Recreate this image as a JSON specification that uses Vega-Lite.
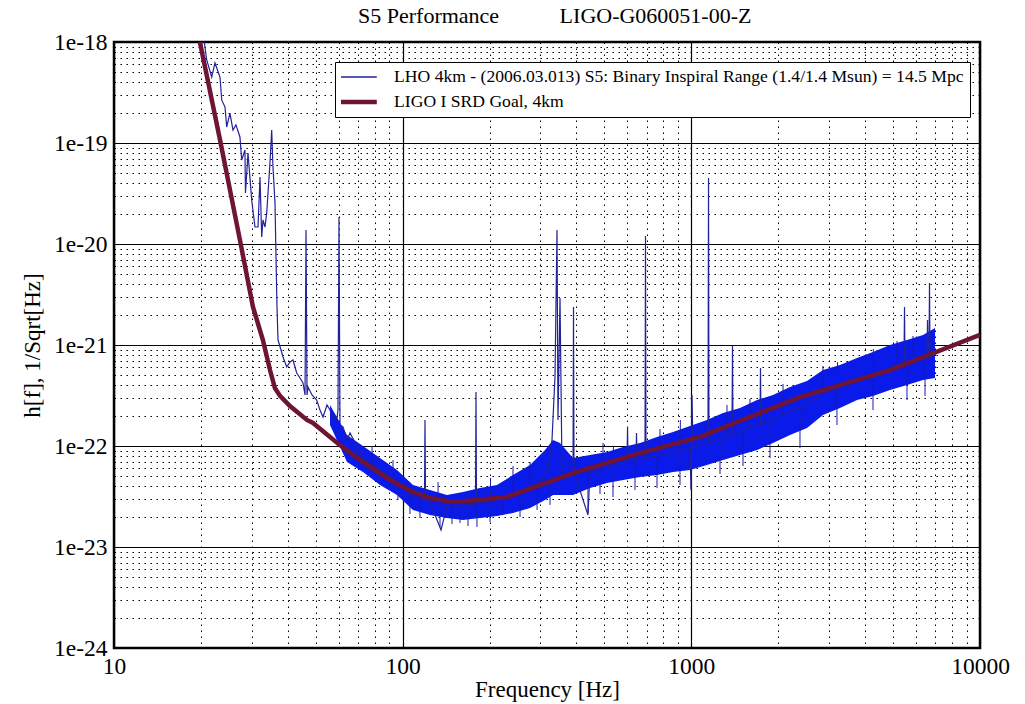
{
  "$schema": "https://vega.github.io/schema/vega-lite/v6.json",
  "width": 866,
  "height": 606,
  "autosize": {"type": "none"},
  "padding": {"left": 114, "top": 42, "right": 45, "bottom": 56},
  "background": "white",
  "config": {"font": "Liberation Serif", "view": {"stroke": "black", "strokeWidth": 2.5}},
  "title": {"text": "S5 Performance\u00a0\u00a0\u00a0\u00a0\u00a0\u00a0\u00a0\u00a0\u00a0\u00a0\u00a0LIGO-G060051-00-Z", "anchor": "start", "frame": "group", "dx": 244, "dy": 10, "fontSize": 22, "fontWeight": "normal", "color": "black", "offset": 12},
  "datasets": {
    "band": [
      {"f": 56.01, "hi": 2.55e-22, "lo": 1.614e-22},
      {"f": 64.15, "hi": 1.285e-22, "lo": 6.94e-23},
      {"f": 72.87, "hi": 1.0e-22, "lo": 5.53e-23},
      {"f": 83.47, "hi": 7.61e-23, "lo": 4.11e-23},
      {"f": 95.59, "hi": 5.78e-23, "lo": 3.27e-23},
      {"f": 108.6, "hi": 4.11e-23, "lo": 2.32e-23},
      {"f": 124.3, "hi": 3.67e-23, "lo": 2.07e-23},
      {"f": 142.4, "hi": 3.27e-23, "lo": 1.937e-23},
      {"f": 161.8, "hi": 3.50e-23, "lo": 1.851e-23},
      {"f": 185.3, "hi": 3.84e-23, "lo": 1.937e-23},
      {"f": 212.2, "hi": 4.11e-23, "lo": 2.03e-23},
      {"f": 241.1, "hi": 5.16e-23, "lo": 2.17e-23},
      {"f": 276.2, "hi": 6.48e-23, "lo": 2.43e-23},
      {"f": 311.3, "hi": 9.13e-23, "lo": 2.92e-23},
      {"f": 331.8, "hi": 1.147e-22, "lo": 3.27e-23},
      {"f": 350.8, "hi": 1.071e-22, "lo": 3.27e-23},
      {"f": 389.1, "hi": 7.61e-23, "lo": 3.27e-23},
      {"f": 445.7, "hi": 8.15e-23, "lo": 3.84e-23},
      {"f": 510.5, "hi": 8.72e-23, "lo": 4.30e-23},
      {"f": 580.0, "hi": 9.77e-23, "lo": 4.61e-23},
      {"f": 664.1, "hi": 1.071e-22, "lo": 4.93e-23},
      {"f": 760.4, "hi": 1.228e-22, "lo": 5.16e-23},
      {"f": 864.0, "hi": 1.376e-22, "lo": 5.53e-23},
      {"f": 989.5, "hi": 1.578e-22, "lo": 5.78e-23},
      {"f": 1133, "hi": 1.809e-22, "lo": 6.48e-23},
      {"f": 1287.6, "hi": 2.12e-22, "lo": 7.27e-23},
      {"f": 1474, "hi": 2.38e-22, "lo": 8.15e-23},
      {"f": 1689, "hi": 2.85e-22, "lo": 9.13e-23},
      {"f": 1918, "hi": 3.20e-22, "lo": 1.071e-22},
      {"f": 2197, "hi": 3.84e-22, "lo": 1.285e-22},
      {"f": 2516, "hi": 4.40e-22, "lo": 1.507e-22},
      {"f": 2858, "hi": 5.65e-22, "lo": 2.03e-22},
      {"f": 3273, "hi": 6.34e-22, "lo": 2.38e-22},
      {"f": 3749, "hi": 7.43e-22, "lo": 2.85e-22},
      {"f": 4259, "hi": 8.52e-22, "lo": 3.13e-22},
      {"f": 4877, "hi": 1.0e-21, "lo": 3.58e-22},
      {"f": 5586, "hi": 1.12e-21, "lo": 4.02e-22},
      {"f": 6346, "hi": 1.256e-21, "lo": 4.50e-22},
      {"f": 6984, "hi": 1.473e-21, "lo": 4.71e-22}
    ],
    "hairs": [
      {"f": 96.34, "a": 2.92e-23, "b": 4.61e-23},
      {"f": 106.0, "a": 2.12e-23, "b": 3.67e-23},
      {"f": 114.8, "a": 1.937e-23, "b": 3.27e-23},
      {"f": 134.7, "a": 1.578e-23, "b": 2.92e-23},
      {"f": 148.2, "a": 1.689e-23, "b": 2.73e-23},
      {"f": 158.0, "a": 1.728e-23, "b": 2.73e-23},
      {"f": 168.4, "a": 1.614e-23, "b": 2.73e-23},
      {"f": 180.9, "a": 1.578e-23, "b": 2.73e-23},
      {"f": 200.7, "a": 1.768e-23, "b": 2.92e-23},
      {"f": 222.6, "a": 2.07e-23, "b": 3.20e-23},
      {"f": 255.0, "a": 1.982e-23, "b": 3.67e-23},
      {"f": 292.1, "a": 2.32e-23, "b": 4.21e-23},
      {"f": 323.9, "a": 2.61e-23, "b": 4.82e-23},
      {"f": 438.5, "a": 2.17e-23, "b": 5.65e-23},
      {"f": 482.6, "a": 3.35e-23, "b": 6.06e-23},
      {"f": 535.4, "a": 3.13e-23, "b": 6.48e-23},
      {"f": 638.0, "a": 3.67e-23, "b": 7.27e-23},
      {"f": 760.4, "a": 3.84e-23, "b": 7.96e-23},
      {"f": 913.5, "a": 4.11e-23, "b": 9.13e-23},
      {"f": 1257, "a": 5.28e-23, "b": 1.200e-22},
      {"f": 1510, "a": 6.34e-23, "b": 1.376e-22},
      {"f": 1873, "a": 7.61e-23, "b": 1.728e-22},
      {"f": 2379, "a": 9.55e-23, "b": 2.38e-22},
      {"f": 3195, "a": 1.614e-22, "b": 3.75e-22},
      {"f": 4259, "a": 2.27e-22, "b": 5.16e-22},
      {"f": 5586, "a": 2.85e-22, "b": 6.79e-22},
      {"f": 6450, "a": 3.13e-22, "b": 7.61e-22},
      {"f": 78.32, "a": 1.0e-22, "b": 6.48e-23},
      {"f": 92.58, "a": 7.27e-23, "b": 4.61e-23},
      {"f": 132.6, "a": 4.40e-23, "b": 2.92e-23},
      {"f": 201.5, "a": 4.82e-23, "b": 2.92e-23},
      {"f": 241.1, "a": 6.34e-23, "b": 3.35e-23},
      {"f": 276.2, "a": 6.94e-23, "b": 4.02e-23},
      {"f": 494.3, "a": 1.071e-22, "b": 6.20e-23},
      {"f": 537.0, "a": 1.0e-22, "b": 6.34e-23},
      {"f": 778.8, "a": 1.473e-22, "b": 8.15e-23},
      {"f": 916.0, "a": 1.809e-22, "b": 9.13e-23},
      {"f": 1329, "a": 2.55e-22, "b": 1.256e-22},
      {"f": 1597, "a": 2.92e-22, "b": 1.507e-22},
      {"f": 2078, "a": 4.11e-22, "b": 2.07e-22},
      {"f": 2858, "a": 6.20e-22, "b": 3.42e-22},
      {"f": 3210, "a": 6.79e-22, "b": 3.75e-22},
      {"f": 4270, "a": 9.13e-22, "b": 5.16e-22},
      {"f": 5159, "a": 1.096e-21, "b": 6.20e-22},
      {"f": 5860, "a": 1.228e-21, "b": 7.10e-22}
    ],
    "lines": [
      {"s": "LHO", "f": 20.50, "h": 1.047e-18},
      {"s": "LHO", "f": 20.95, "h": 6.64e-19},
      {"s": "LHO", "f": 21.80, "h": 4.50e-19},
      {"s": "LHO", "f": 22.38, "h": 6.20e-19},
      {"s": "LHO", "f": 23.29, "h": 4.50e-19},
      {"s": "LHO", "f": 23.61, "h": 2.67e-19},
      {"s": "LHO", "f": 24.24, "h": 2.27e-19},
      {"s": "LHO", "f": 24.57, "h": 1.44e-19},
      {"s": "LHO", "f": 25.22, "h": 1.98e-19},
      {"s": "LHO", "f": 25.83, "h": 1.345e-19},
      {"s": "LHO", "f": 26.45, "h": 1.51e-19},
      {"s": "LHO", "f": 27.31, "h": 1.147e-19},
      {"s": "LHO", "f": 27.69, "h": 6.79e-20},
      {"s": "LHO", "f": 28.42, "h": 8.52e-20},
      {"s": "LHO", "f": 28.54, "h": 3.20e-20},
      {"s": "LHO", "f": 29.12, "h": 7.96e-20},
      {"s": "LHO", "f": 29.99, "h": 2.73e-20},
      {"s": "LHO", "f": 30.79, "h": 1.473e-20},
      {"s": "LHO", "f": 31.54, "h": 1.473e-20},
      {"s": "LHO", "f": 32.05, "h": 4.61e-20},
      {"s": "LHO", "f": 32.48, "h": 1.173e-20},
      {"s": "LHO", "f": 32.82, "h": 1.728e-20},
      {"s": "LHO", "f": 33.35, "h": 1.473e-20},
      {"s": "LHO", "f": 33.81, "h": 2.03e-20},
      {"s": "LHO", "f": 34.70, "h": 6.34e-20},
      {"s": "LHO", "f": 35.18, "h": 1.345e-19},
      {"s": "LHO", "f": 35.54, "h": 5.78e-20},
      {"s": "LHO", "f": 36.12, "h": 2.55e-20},
      {"s": "LHO", "f": 36.41, "h": 7.43e-21},
      {"s": "LHO", "f": 36.70, "h": 2.38e-21},
      {"s": "LHO", "f": 37.00, "h": 1.12e-21},
      {"s": "LHO", "f": 37.89, "h": 8.92e-22},
      {"s": "LHO", "f": 38.50, "h": 7.61e-22},
      {"s": "LHO", "f": 39.66, "h": 6.05e-22},
      {"s": "LHO", "f": 40.71, "h": 6.79e-22},
      {"s": "LHO", "f": 41.70, "h": 7.10e-22},
      {"s": "LHO", "f": 42.95, "h": 5.28e-22},
      {"s": "LHO", "f": 44.09, "h": 4.71e-22},
      {"s": "LHO", "f": 45.16, "h": 4.21e-22},
      {"s": "LHO", "f": 45.89, "h": 3.20e-22},
      {"s": "LHO", "f": 46.26, "h": 1.376e-20},
      {"s": "LHO", "f": 46.63, "h": 3.20e-22},
      {"s": "LHO", "f": 46.99, "h": 3.84e-22},
      {"s": "LHO", "f": 48.52, "h": 3.20e-22},
      {"s": "LHO", "f": 50.37, "h": 2.85e-22},
      {"s": "LHO", "f": 51.71, "h": 2.27e-22},
      {"s": "LHO", "f": 52.97, "h": 1.937e-22},
      {"s": "LHO", "f": 54.69, "h": 2.55e-22},
      {"s": "LHO", "f": 56.01, "h": 2.27e-22},
      {"s": "LHO", "f": 57.37, "h": 1.893e-22},
      {"s": "LHO", "f": 59.08, "h": 1.809e-22},
      {"s": "LHO", "f": 59.70, "h": 2.27e-22},
      {"s": "LHO", "f": 60.18, "h": 1.851e-20},
      {"s": "LHO", "f": 60.66, "h": 1.614e-22},
      {"s": "LHO", "f": 62.13, "h": 1.542e-22},
      {"s": "LHO", "f": 64.15, "h": 1.147e-22},
      {"s": "LHO", "f": 65.70, "h": 1.345e-22},
      {"s": "LHO", "f": 72.87, "h": 7.61e-23},
      {"s": "LHO", "f": 83.47, "h": 5.78e-23},
      {"s": "LHO", "f": 95.59, "h": 4.40e-23},
      {"s": "LHO", "f": 108.6, "h": 3.13e-23},
      {"s": "LHO", "f": 119.0, "h": 2.92e-23},
      {"s": "LHO", "f": 119.5, "h": 1.809e-22},
      {"s": "LHO", "f": 120.0, "h": 2.79e-23},
      {"s": "LHO", "f": 124.3, "h": 2.79e-23},
      {"s": "LHO", "f": 135.8, "h": 1.473e-23},
      {"s": "LHO", "f": 142.4, "h": 2.55e-23},
      {"s": "LHO", "f": 161.8, "h": 2.55e-23},
      {"s": "LHO", "f": 178.8, "h": 2.67e-23},
      {"s": "LHO", "f": 179.5, "h": 3.42e-22},
      {"s": "LHO", "f": 180.2, "h": 2.67e-23},
      {"s": "LHO", "f": 185.3, "h": 2.73e-23},
      {"s": "LHO", "f": 212.2, "h": 2.92e-23},
      {"s": "LHO", "f": 241.1, "h": 3.35e-23},
      {"s": "LHO", "f": 276.2, "h": 4.02e-23},
      {"s": "LHO", "f": 299.1, "h": 4.40e-23},
      {"s": "LHO", "f": 318.8, "h": 5.78e-23},
      {"s": "LHO", "f": 329.1, "h": 1.147e-22},
      {"s": "LHO", "f": 337.1, "h": 4.93e-22},
      {"s": "LHO", "f": 342.5, "h": 1.376e-20},
      {"s": "LHO", "f": 345.2, "h": 1.809e-22},
      {"s": "LHO", "f": 350.8, "h": 2.92e-21},
      {"s": "LHO", "f": 356.4, "h": 5.78e-23},
      {"s": "LHO", "f": 368.0, "h": 4.82e-23},
      {"s": "LHO", "f": 389.1, "h": 5.53e-23},
      {"s": "LHO", "f": 390.7, "h": 2.38e-21},
      {"s": "LHO", "f": 392.2, "h": 5.53e-23},
      {"s": "LHO", "f": 438.5, "h": 2.07e-23},
      {"s": "LHO", "f": 445.7, "h": 5.65e-23},
      {"s": "LHO", "f": 510.5, "h": 6.20e-23},
      {"s": "LHO", "f": 580.0, "h": 6.79e-23},
      {"s": "LHO", "f": 598.8, "h": 7.27e-23},
      {"s": "LHO", "f": 601.2, "h": 1.542e-22},
      {"s": "LHO", "f": 603.6, "h": 7.27e-23},
      {"s": "LHO", "f": 643.3, "h": 7.27e-23},
      {"s": "LHO", "f": 645.7, "h": 1.345e-22},
      {"s": "LHO", "f": 648.3, "h": 7.27e-23},
      {"s": "LHO", "f": 691.0, "h": 7.61e-23},
      {"s": "LHO", "f": 693.8, "h": 1.200e-20},
      {"s": "LHO", "f": 696.6, "h": 7.61e-23},
      {"s": "LHO", "f": 760.4, "h": 7.96e-23},
      {"s": "LHO", "f": 864.0, "h": 8.72e-23},
      {"s": "LHO", "f": 989.5, "h": 9.55e-23},
      {"s": "LHO", "f": 997.3, "h": 3.67e-23},
      {"s": "LHO", "f": 1005.3, "h": 3.20e-22},
      {"s": "LHO", "f": 1013.4, "h": 9.55e-23},
      {"s": "LHO", "f": 1142, "h": 1.071e-22},
      {"s": "LHO", "f": 1147, "h": 4.50e-20},
      {"s": "LHO", "f": 1151, "h": 1.071e-22},
      {"s": "LHO", "f": 1287.6, "h": 1.228e-22},
      {"s": "LHO", "f": 1383, "h": 1.315e-22},
      {"s": "LHO", "f": 1388.8, "h": 9.77e-22},
      {"s": "LHO", "f": 1394.3, "h": 1.315e-22},
      {"s": "LHO", "f": 1474, "h": 1.376e-22},
      {"s": "LHO", "f": 1689, "h": 1.614e-22},
      {"s": "LHO", "f": 1729.5, "h": 1.651e-22},
      {"s": "LHO", "f": 1736, "h": 5.92e-22},
      {"s": "LHO", "f": 1743, "h": 1.651e-22},
      {"s": "LHO", "f": 1918, "h": 1.851e-22},
      {"s": "LHO", "f": 2197, "h": 2.22e-22},
      {"s": "LHO", "f": 2516, "h": 2.55e-22},
      {"s": "LHO", "f": 2858, "h": 3.35e-22},
      {"s": "LHO", "f": 3273, "h": 3.84e-22},
      {"s": "LHO", "f": 3749, "h": 4.50e-22},
      {"s": "LHO", "f": 4259, "h": 5.16e-22},
      {"s": "LHO", "f": 4877, "h": 5.92e-22},
      {"s": "LHO", "f": 5455, "h": 6.79e-22},
      {"s": "LHO", "f": 5476, "h": 2.38e-21},
      {"s": "LHO", "f": 5497, "h": 6.79e-22},
      {"s": "LHO", "f": 6346, "h": 7.43e-22},
      {"s": "LHO", "f": 6553, "h": 7.78e-22},
      {"s": "LHO", "f": 6579, "h": 1.768e-21},
      {"s": "LHO", "f": 6605, "h": 7.78e-22},
      {"s": "LHO", "f": 6658, "h": 7.78e-22},
      {"s": "LHO", "f": 6684, "h": 4.11e-21},
      {"s": "LHO", "f": 6710, "h": 7.78e-22},
      {"s": "LHO", "f": 6984, "h": 8.33e-22},
      {"s": "SRD", "f": 19.84, "h": 1.0e-18},
      {"s": "SRD", "f": 23.3, "h": 1.07e-19},
      {"s": "SRD", "f": 27.3, "h": 1.10e-20},
      {"s": "SRD", "f": 30.3, "h": 2.38e-21},
      {"s": "SRD", "f": 32.8, "h": 1.12e-21},
      {"s": "SRD", "f": 34.7, "h": 5.65e-22},
      {"s": "SRD", "f": 36.1, "h": 3.75e-22},
      {"s": "SRD", "f": 37.6, "h": 3.13e-22},
      {"s": "SRD", "f": 40.7, "h": 2.49e-22},
      {"s": "SRD", "f": 46.6, "h": 1.81e-22},
      {"s": "SRD", "f": 48.9, "h": 1.69e-22},
      {"s": "SRD", "f": 60.7, "h": 1.02e-22},
      {"s": "SRD", "f": 72.9, "h": 6.95e-23},
      {"s": "SRD", "f": 90.4, "h": 4.6e-23},
      {"s": "SRD", "f": 108.6, "h": 3.5e-23},
      {"s": "SRD", "f": 124.4, "h": 3.06e-23},
      {"s": "SRD", "f": 149.4, "h": 2.79e-23},
      {"s": "SRD", "f": 180.9, "h": 2.92e-23},
      {"s": "SRD", "f": 229.8, "h": 3.13e-23},
      {"s": "SRD", "f": 299, "h": 4.1e-23},
      {"s": "SRD", "f": 389, "h": 5.4e-23},
      {"s": "SRD", "f": 510, "h": 6.8e-23},
      {"s": "SRD", "f": 664, "h": 8.5e-23},
      {"s": "SRD", "f": 1072, "h": 1.23e-22},
      {"s": "SRD", "f": 2379, "h": 3.05e-22},
      {"s": "SRD", "f": 4877, "h": 5.65e-22},
      {"s": "SRD", "f": 10000, "h": 1.26e-21}
    ]
  },
  "layer": [
    {
      "data": {"name": "band"},
      "mark": {"type": "area", "color": "#0a1ae8", "clip": true},
      "encoding": {
        "x": {
          "field": "f", "type": "quantitative", "title": "Frequency [Hz]",
          "scale": {"type": "log", "domain": [10, 10000], "nice": false},
          "axis": {
            "values": [10, 20, 30, 40, 50, 60, 70, 80, 90, 100, 200, 300, 400, 500, 600, 700, 800, 900, 1000, 2000, 3000, 4000, 5000, 6000, 7000, 8000, 9000, 10000],
            "labelExpr": "abs(log(datum.value)/LN10 - round(log(datum.value)/LN10)) < 0.01 ? format(datum.value, 'd') : ''",
            "grid": true,
            "gridColor": "black",
            "gridOpacity": 1,
            "gridDash": {"condition": {"test": "abs(log(datum.value)/LN10 - round(log(datum.value)/LN10)) < 0.01", "value": []}, "value": [1.5, 4.5]},
            "gridWidth": {"condition": {"test": "abs(log(datum.value)/LN10 - round(log(datum.value)/LN10)) < 0.01", "value": 1.2}, "value": 1},
            "ticks": false,
            "domain": false,
            "labelFontSize": 23.5,
            "labelColor": "black",
            "labelPadding": 6,
            "labelOverlap": false,
            "labelBound": false,
            "labelFlush": false,
            "titleFontSize": 23,
            "titleFontWeight": "normal",
            "titleColor": "black",
            "titlePadding": 1
          }
        },
        "y": {
          "field": "lo", "type": "quantitative", "title": "h[f], 1/Sqrt[Hz]",
          "scale": {"type": "log", "domain": [1e-24, 1e-18], "nice": false, "zero": false},
          "axis": {
            "values": [1e-24, 2e-24, 3e-24, 4e-24, 5e-24, 6e-24, 7e-24, 8e-24, 9e-24, 1e-23, 2e-23, 3e-23, 4e-23, 5e-23, 6e-23, 7e-23, 8e-23, 9e-23, 1e-22, 2e-22, 3e-22, 4e-22, 5e-22, 6e-22, 7e-22, 8e-22, 9e-22, 1e-21, 2e-21, 3e-21, 4e-21, 5e-21, 6e-21, 7e-21, 8e-21, 9e-21, 1e-20, 2e-20, 3e-20, 4e-20, 5e-20, 6e-20, 7e-20, 8e-20, 9e-20, 1e-19, 2e-19, 3e-19, 4e-19, 5e-19, 6e-19, 7e-19, 8e-19, 9e-19, 1e-18],
            "labelExpr": "abs(log(datum.value)/LN10 - round(log(datum.value)/LN10)) < 0.01 ? '1e' + round(log(datum.value)/LN10) : ''",
            "grid": true,
            "gridColor": "black",
            "gridOpacity": 1,
            "gridDash": {"condition": {"test": "abs(log(datum.value)/LN10 - round(log(datum.value)/LN10)) < 0.01", "value": []}, "value": [1.5, 4.5]},
            "gridWidth": {"condition": {"test": "abs(log(datum.value)/LN10 - round(log(datum.value)/LN10)) < 0.01", "value": 1.2}, "value": 1},
            "ticks": false,
            "domain": false,
            "labelFontSize": 23.5,
            "labelColor": "black",
            "labelPadding": 7,
            "labelOverlap": false,
            "labelBound": false,
            "labelFlush": false,
            "titleFontSize": 23,
            "titleFontWeight": "normal",
            "titleColor": "black",
            "titlePadding": 9
          }
        },
        "y2": {"field": "hi"}
      }
    },
    {
      "data": {"name": "hairs"},
      "mark": {"type": "rule", "color": "#1a1ab4", "strokeWidth": 1, "clip": true},
      "encoding": {
        "x": {"field": "f", "type": "quantitative", "title": "Frequency [Hz]"},
        "y": {"field": "a", "type": "quantitative", "title": "h[f], 1/Sqrt[Hz]"},
        "y2": {"field": "b"}
      }
    },
    {
      "data": {"name": "lines"},
      "transform": [{"filter": "datum.s == 'LHO'"}],
      "mark": {"type": "line", "clip": true, "strokeWidth": 1.2},
      "encoding": {
        "x": {"field": "f", "type": "quantitative", "title": "Frequency [Hz]"},
        "y": {"field": "h", "type": "quantitative", "title": "h[f], 1/Sqrt[Hz]"},
        "color": {
          "field": "s", "type": "nominal",
          "scale": {"domain": ["LHO", "SRD"], "range": ["#22229a", "#6e1535"]},
          "legend": {
            "orient": "none", "legendX": 221, "legendY": 20,
            "title": null,
            "fillColor": "white", "strokeColor": "black",
            "padding": 6,
            "symbolType": "stroke", "symbolSize": 1370, "clipHeight": 18,
            "symbolOffset": 8.5,
            "rowPadding": 7,
            "labelFontSize": 17.6, "labelFont": "Liberation Serif", "labelColor": "black",
            "labelLimit": 800, "labelOffset": 27,
            "labelExpr": "datum.value == 'LHO' ? 'LHO 4km - (2006.03.013) S5: Binary Inspiral Range (1.4/1.4 Msun) = 14.5 Mpc' : 'LIGO I SRD Goal, 4km'",
            "encode": {"symbols": {"update": {"strokeWidth": {"signal": "datum.value == 'SRD' ? 4.5 : 1.3"}}}}
          }
        }
      }
    },
    {
      "data": {"name": "lines"},
      "transform": [{"filter": "datum.s == 'SRD'"}],
      "mark": {"type": "line", "clip": true, "strokeWidth": 4.5},
      "encoding": {
        "x": {"field": "f", "type": "quantitative", "title": "Frequency [Hz]"},
        "y": {"field": "h", "type": "quantitative", "title": "h[f], 1/Sqrt[Hz]"},
        "color": {"field": "s", "type": "nominal"}
      }
    }
  ]
}
